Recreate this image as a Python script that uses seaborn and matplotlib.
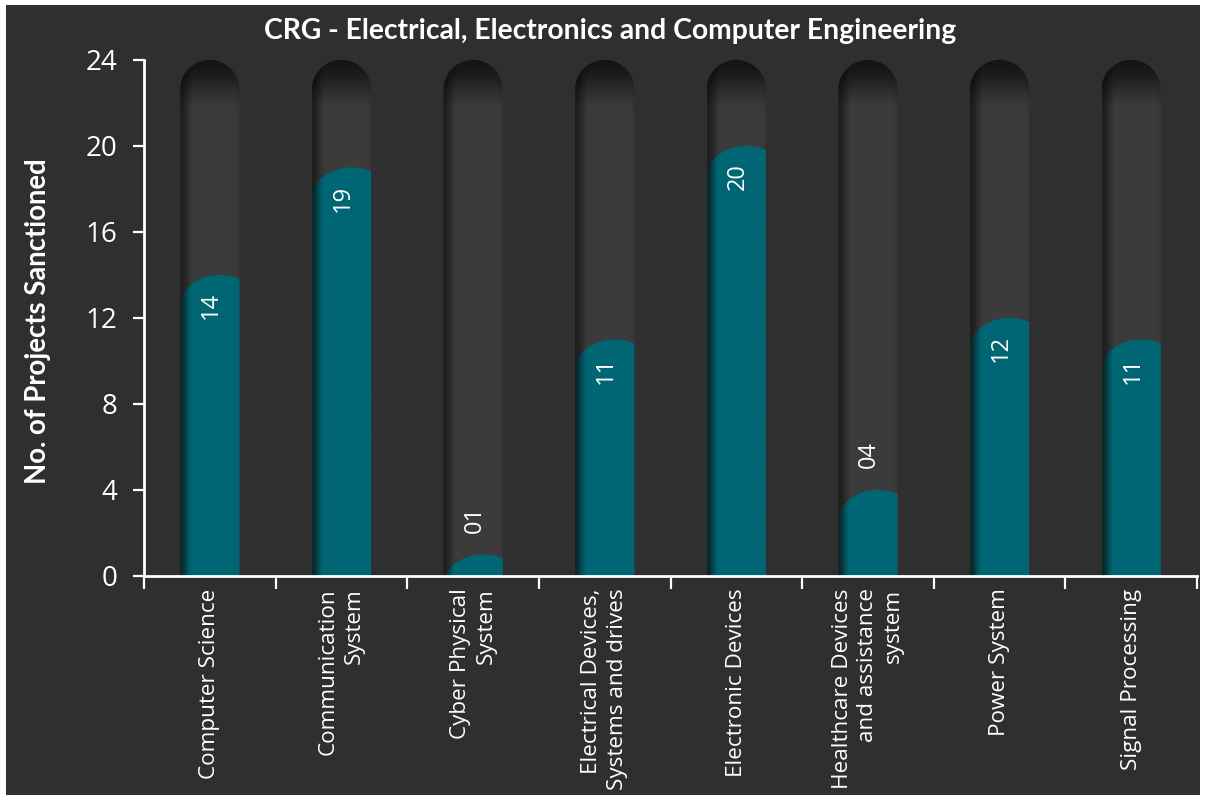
import numpy as np
import matplotlib
matplotlib.use("Agg")
import matplotlib.pyplot as plt
from matplotlib.patches import Polygon, Rectangle
import seaborn as sns

categories = ["Computer Science", "Communication\nSystem", "Cyber Physical\nSystem",
              "Electrical Devices,\nSystems and drives", "Electronic Devices",
              "Healthcare Devices\nand assistance\nsystem", "Power System", "Signal Processing"]
values = [14, 19, 1, 11, 20, 4, 12, 11]
y_ticks = [0, 4, 8, 12, 16, 20, 24]
track_max = 24

title = "CRG - Electrical, Electronics and Computer Engineering"
y_label = "No. of Projects Sanctioned"

bg = "#2f2f2f"
teal = "#006674"

sns.set_theme(style="dark")
plt.rcParams["font.family"] = ["Open Sans", "DejaVu Sans"]

W, H = 1206, 801
fig = plt.figure(figsize=(W / 100, H / 100), dpi=100)
fig.patch.set_facecolor("white")
fig.add_artist(Rectangle((6 / W, 6 / H), 1 - 12 / W, 1 - 11 / H, transform=fig.transFigure,
                         facecolor=bg, edgecolor="none", zorder=-10))

ax = fig.add_axes([144 / W, 1 - 576 / H, 1053 / W, (576 - 56) / H])
ax.set_facecolor("none")

sns.barplot(x=categories, y=values, color=teal, saturation=1, width=0.45, ax=ax)
ax.set_xlim(-0.5, len(categories) - 0.5)
ax.set_ylim(0, track_max + 0.18)

# px per data unit, used to size the rounded caps
px_y = (576 - 56) / (track_max + 0.18)
px_x = 1053 / len(categories)


def smooth(t):
    t = np.clip(t, 0, 1)
    return t * t * (3 - 2 * t)


for p in list(ax.patches):
    x0, w, v = p.get_x(), p.get_width(), p.get_height()
    xc = x0 + w / 2
    p.set_visible(False)

    # rounded track behind each bar
    rx = w / 2
    ry = rx * px_x / px_y
    t = np.linspace(0, np.pi, 60)
    top = np.column_stack([xc + rx * np.cos(t), track_max - ry + ry * np.sin(t)])
    track = Polygon(np.vstack([[x0 + w, 0], top, [x0, 0]]), closed=True,
                    facecolor="none", edgecolor="none")
    ax.add_patch(track)
    nx, ny = 80, 400
    u = np.linspace(0, 1, nx)
    yy = np.linspace(0, track_max + 0.2, ny)
    hf = 0.5 + 0.5 * smooth(u / 0.24)
    hf = hf * (1 - 0.08 * smooth((u - 0.88) / 0.12))
    vf = 0.35 + 0.65 * smooth((track_max - yy) / 2.4)
    shade = 0.235 * np.outer(vf, hf)
    img = np.dstack([shade, shade, shade])
    im = ax.imshow(img, extent=(x0, x0 + w, 0, track_max + 0.2), origin="lower",
                   aspect="auto", interpolation="bilinear", zorder=1)
    im.set_clip_path(track)

    # teal bar with a slanted round top
    R = 0.32
    dx = 0.076
    b = 36 / px_y
    xs = np.linspace(x0, x0 + w, 60)
    d = np.clip((xs - (xc + dx)) / R, -1, 1)
    ys = np.maximum(v - b * (1 - np.sqrt(1 - d ** 2)), 0)
    bar = Polygon(np.vstack([[x0, 0], np.column_stack([xs, ys]), [x0 + w, 0]]), closed=True,
                  facecolor="none", edgecolor="none")
    ax.add_patch(bar)
    base = np.array([0, 102, 116]) / 255
    dark = np.array([10, 40, 46]) / 255
    k = smooth(u / 0.2)[None, :, None]
    timg = np.repeat(dark + (base - dark) * k, 2, axis=0)
    im2 = ax.imshow(timg, extent=(x0, x0 + w, 0, track_max + 0.2), origin="lower",
                    aspect="auto", interpolation="bilinear", zorder=2)
    im2.set_clip_path(bar)

    # value label
    label = f"{int(round(v)):02d}"
    if v >= 6:
        ax.text(xc + 0.01, v - 0.8, label, rotation=90, ha="center", va="top",
                color="white", fontsize=17, zorder=5)
    else:
        ax.text(xc + 0.01, v + 1.0, label, rotation=90, ha="center", va="bottom",
                color="white", fontsize=17, zorder=5)

ax.set_xlim(-0.5, len(categories) - 0.5)
ax.set_ylim(0, track_max + 0.18)

for s in ["top", "right"]:
    ax.spines[s].set_visible(False)
for s in ["left", "bottom"]:
    ax.spines[s].set_visible(True)
    ax.spines[s].set_color("white")
    ax.spines[s].set_linewidth(2)
    ax.spines[s].set_zorder(6)
ax.spines["left"].set_bounds(0, track_max)

ax.set_yticks(y_ticks)
ax.set_yticklabels([str(t) for t in y_ticks])
ax.tick_params(axis="y", left=True, direction="out", length=8, width=1.6, color="white",
               labelcolor="white", labelsize=20, pad=11)
ax.set_xticks(np.arange(len(categories)))
ax.set_xticklabels(categories, rotation=90, ha="center", va="top", multialignment="right",
                   linespacing=1.3)
ax.set_xticks(np.arange(len(categories) + 1) - 0.5, minor=True)
ax.tick_params(axis="x", which="major", length=0, labelcolor="white", labelsize=16.2, pad=9)
ax.tick_params(axis="x", which="minor", bottom=True, direction="out", length=9, width=1.6,
               color="white")
ax.grid(False)
ax.set_xlabel("")
ax.set_ylabel("")

fig.text(38 / W, 1 - 321 / H, y_label, rotation=90, ha="center", va="center",
         color="white", fontsize=19.8, fontweight="bold", family=["Lato", "DejaVu Sans"])
fig.text(610 / W, 1 - 31 / H, title, ha="center", va="center", color="white",
         fontsize=20.3, fontweight="bold", family=["Lato", "DejaVu Sans"])

fig.savefig("out.png", dpi=100, facecolor=fig.get_facecolor())
